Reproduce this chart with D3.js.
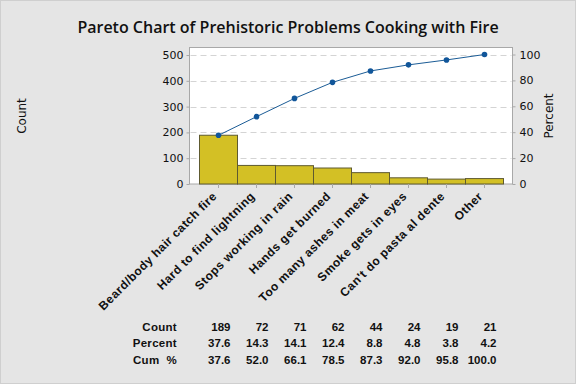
<!DOCTYPE html>
<html><head><meta charset="utf-8">
<script src="https://cdn.jsdelivr.net/npm/d3@7/dist/d3.min.js"></script>
<style>
html,body{margin:0;padding:0;background:#e5e5e5;}
svg{display:block;}
</style></head>
<body>
<svg id="chart" width="576" height="384"></svg>
<script>
const categories = ["Beard/body hair catch fire","Hard to find lightning","Stops working in rain","Hands get burned","Too many ashes in meat","Smoke gets in eyes","Can't do pasta al dente","Other"];
const counts = [189,72,71,62,44,24,19,21];
const percents = ["37.6","14.3","14.1","12.4","8.8","4.8","3.8","4.2"];
const cumPercents = [37.6,52.0,66.1,78.5,87.3,92.0,95.8,100.0];
const countTicks = [0,100,200,300,400,500];
const percentTicks = [0,20,40,60,80,100];
const title = "Pareto Chart of Prehistoric Problems Cooking with Fire";

const svg = d3.select("#chart");
const W = 576, H = 384;
svg.append("rect").attr("x",0.5).attr("y",0.5).attr("width",W-1).attr("height",H-1)
  .attr("fill","#e5e5e5").attr("stroke","#cfcfcf");

const plot = {left:189.5, right:512.5, top:47.5, bottom:184};
const total = d3.sum(counts);
const x = d3.scaleBand().domain(categories).range([199.5,503.5]).padding(0);
const yC = d3.scaleLinear().domain([0,total]).range([plot.bottom,54.5]);
const yP = d3.scaleLinear().domain([0,100]).range([plot.bottom,54.5]);

svg.append("rect").attr("x",plot.left).attr("y",plot.top)
  .attr("width",plot.right-plot.left).attr("height",plot.bottom-plot.top)
  .attr("fill","#ffffff").attr("stroke","#a8a8a8");

// gridlines
svg.append("g").selectAll("line").data(countTicks.filter(d=>d>0)).join("line")
  .attr("x1",plot.left+1).attr("x2",plot.right-1)
  .attr("y1",d=>Math.round(yC(d))+0.5).attr("y2",d=>Math.round(yC(d))+0.5)
  .attr("stroke","#d4d4d4").attr("stroke-dasharray","6,4");

// bars
svg.append("g").selectAll("rect").data(categories).join("rect")
  .attr("x",d=>x(d)).attr("width",x.bandwidth())
  .attr("y",(d,i)=>yC(counts[i])).attr("height",(d,i)=>plot.bottom-yC(counts[i]))
  .attr("fill","#d3c025").attr("stroke","#5e5a30").attr("stroke-width",1);

// axes
const fontAxis = "'DejaVu Sans', 'Noto Sans', sans-serif";
const gl = svg.append("g").attr("transform",`translate(${plot.left},0)`)
  .call(d3.axisLeft(yC).tickValues(countTicks).tickSize(3).tickPadding(3));
gl.select(".domain").remove();
gl.selectAll("line").attr("stroke","#a8a8a8");
gl.selectAll("text").attr("font-family",fontAxis).attr("font-size",11).attr("fill","#111");

const gr = svg.append("g").attr("transform",`translate(${plot.right},0)`)
  .call(d3.axisRight(yP).tickValues(percentTicks).tickSize(3).tickPadding(4));
gr.select(".domain").remove();
gr.selectAll("line").attr("stroke","#a8a8a8");
gr.selectAll("text").attr("font-family",fontAxis).attr("font-size",11).attr("fill","#111");

const gb = svg.append("g").attr("transform",`translate(0,${plot.bottom})`)
  .call(d3.axisBottom(x).tickSize(4).tickPadding(4));
gb.select(".domain").remove();
gb.selectAll("line").attr("stroke","#a8a8a8");
gb.selectAll("text")
  .attr("font-family","'Liberation Sans', Arial, sans-serif").attr("font-size",12).attr("font-weight","bold")
  .attr("letter-spacing","0.5px")
  .attr("fill","#111").attr("text-anchor","end")
  .attr("y",0).attr("dy",0)
  .attr("transform","translate(-1,13) rotate(-45)");

// cumulative line
const line = d3.line().x((d,i)=>x(categories[i])+x.bandwidth()/2).y(d=>yP(d));
svg.append("path").datum(cumPercents).attr("d",line)
  .attr("fill","none").attr("stroke","#1b5c96").attr("stroke-width",1);
svg.append("g").selectAll("circle").data(cumPercents).join("circle")
  .attr("cx",(d,i)=>x(categories[i])+x.bandwidth()/2).attr("cy",d=>yP(d))
  .attr("r",2.8).attr("fill","#11569a");

// axis titles
svg.append("text").attr("transform","translate(26,116) rotate(-90)")
  .attr("text-anchor","middle").attr("font-family",fontAxis).attr("font-size",12).attr("fill","#111").text("Count");
svg.append("text").attr("transform","translate(553,116) rotate(-90)")
  .attr("text-anchor","middle").attr("font-family",fontAxis).attr("font-size",12).attr("fill","#111").text("Percent");

// title
svg.append("text").attr("x",288).attr("y",33).attr("text-anchor","middle")
  .attr("font-family","'Open Sans', 'Noto Sans', sans-serif").attr("font-size",16).attr("font-weight",600)
  .attr("fill","#111").text(title);

// table
const rows = [["Count",counts.map(String)],["Percent",percents],["Cum  %",cumPercents.map(d=>d.toFixed(1))]];
const tf = "'Liberation Sans', Arial, sans-serif";
rows.forEach((r,ri)=>{
  const yy = 331 + ri*16.3;
  svg.append("text").attr("x",177).attr("y",yy).attr("text-anchor","end")
    .attr("font-family",tf).attr("font-size",11.5).attr("font-weight","bold").attr("fill","#111")
    .attr("letter-spacing","0.3px")
    .attr("xml:space","preserve").style("white-space","pre").text(r[0]);
  svg.append("g").selectAll("text").data(r[1]).join("text")
    .attr("x",(d,i)=>x(categories[i])+x.bandwidth()/2+12).attr("y",yy).attr("text-anchor","end")
    .attr("font-family",tf).attr("font-size",11.5).attr("font-weight","bold").attr("fill","#111")
    .text(d=>d);
});
</script>
</body></html>
